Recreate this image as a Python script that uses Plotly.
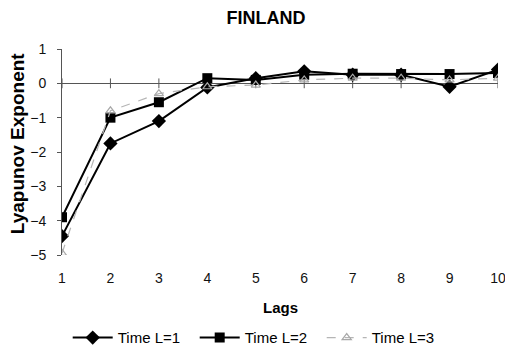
import plotly.graph_objects as go

lags = [1, 2, 3, 4, 5, 6, 7, 8, 9, 10]
time_l1 = [-4.45, -1.75, -1.1, -0.12, 0.15, 0.35, 0.25, 0.25, -0.1, 0.4]
time_l2 = [-3.9, -1.0, -0.55, 0.15, 0.1, 0.25, 0.28, 0.27, 0.27, 0.3]
time_l3 = [-4.95, -0.8, -0.3, -0.1, -0.05, 0.1, 0.15, 0.15, 0.1, 0.15]
y_ticks = [1, 0, -1, -2, -3, -4, -5]

font_fam = "Liberation Sans, Arial, sans-serif"

fig = go.Figure()

# zero-line tick marks
fig.add_trace(go.Scatter(x=lags, y=[0] * len(lags), mode="markers",
                         marker=dict(symbol="line-ns-open", size=7, color="#555", line=dict(width=1, color="#555")),
                         showlegend=False, hoverinfo="skip"))

fig.add_trace(go.Scatter(x=lags, y=time_l1, name="Time L=1", mode="lines+markers",
                         line=dict(color="black", width=2),
                         marker=dict(symbol="diamond", size=11, color="black")))
fig.add_trace(go.Scatter(x=lags, y=time_l2, name="Time L=2", mode="lines+markers",
                         line=dict(color="black", width=2),
                         marker=dict(symbol="square", size=10, color="black")))
fig.add_trace(go.Scatter(x=lags, y=time_l3, name="Time L=3", mode="lines+markers",
                         line=dict(color="#b5b5b5", width=1.2, dash="dash"),
                         marker=dict(symbol="triangle-up-open", size=8, color="#a8a8a8", line=dict(width=1.2))))

fig.add_annotation(text="<b>Lyapunov Exponent</b>", textangle=-90, xref="paper", yref="paper",
                   x=-0.103, y=0.543, xanchor="center", yanchor="middle", showarrow=False,
                   font=dict(size=19, family=font_fam, color="black"))
fig.add_annotation(text="<b>Lags</b>", xref="paper", yref="paper",
                   x=0.5, y=-0.257, xanchor="center", yanchor="middle", showarrow=False,
                   font=dict(size=15, family=font_fam, color="black"))

fig.update_layout(
    width=505, height=341,
    margin=dict(l=54, r=15, t=41, b=94, autoexpand=False),
    paper_bgcolor="white", plot_bgcolor="white",
    font=dict(family=font_fam, size=14, color="black"),
    title=dict(text="<b>FINLAND</b>", x=0.511, xanchor="center", y=0.971, yanchor="middle",
               font=dict(size=18, family=font_fam)),
    xaxis=dict(range=[1, 10], tickvals=lags, showline=False, showgrid=False, zeroline=False,
               ticks="", tickfont=dict(size=14, color="#111"), ticklabelstandoff=13),
    yaxis=dict(range=[-5, 1], tickvals=y_ticks, showgrid=False, zeroline=True,
               zerolinecolor="#555", zerolinewidth=1,
               showline=True, linecolor="#555", linewidth=1, ticks="outside", ticklen=4,
               tickcolor="#555", tickfont=dict(size=14, color="#111"), ticklabelstandoff=8),
    legend=dict(orientation="h", x=0.45, xanchor="center", y=-0.402, yanchor="middle",
                font=dict(size=15), itemwidth=40, tracegroupgap=0,
                entrywidth=72, entrywidthmode="pixels"),
)

fig.write_html("out.html")
